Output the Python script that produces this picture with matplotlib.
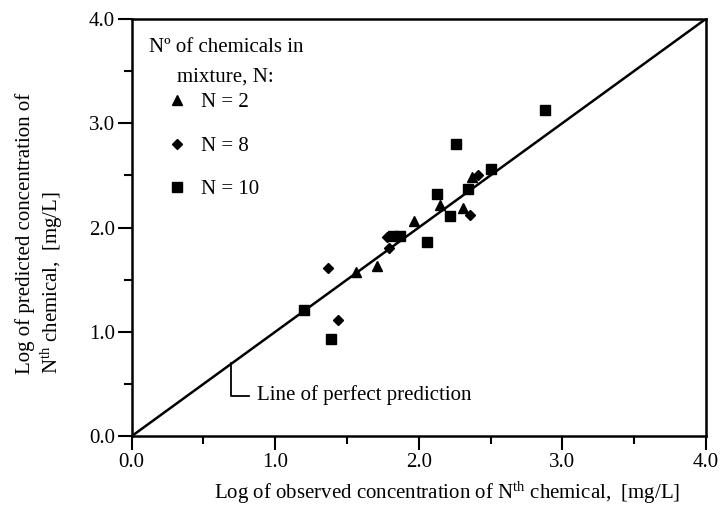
import numpy as np
import matplotlib.pyplot as plt
from matplotlib.ticker import MultipleLocator, FormatStrFormatter

plt.rcParams['font.family'] = ['Liberation Serif', 'DejaVu Serif']
plt.rcParams['mathtext.default'] = 'regular'

# data (log mg/L)
obs_n2 = [1.56, 1.71, 1.97, 2.15, 2.31, 2.37]
pred_n2 = [1.57, 1.63, 2.06, 2.22, 2.19, 2.48]

obs_n8 = [1.37, 1.44, 1.79, 1.78, 2.36, 2.41]
pred_n8 = [1.61, 1.11, 1.80, 1.91, 2.12, 2.50]

obs_n10 = [1.20, 1.39, 1.82, 1.87, 2.06, 2.13, 2.22, 2.26, 2.34, 2.50, 2.88]
pred_n10 = [1.21, 0.93, 1.92, 1.92, 1.86, 2.32, 2.11, 2.80, 2.37, 2.56, 3.13]

perfect = [0.0, 4.0]

fs = 15

fig = plt.figure(figsize=(7.27, 5.09), dpi=100)
ax = fig.add_axes([0.181, 0.143, 0.790, 0.820])

ax.plot(perfect, perfect, color='black', lw=1.8, zorder=2)
ax.plot(obs_n2, pred_n2, '^', color='black', ms=7.5, ls='none', label='N = 2', zorder=3)
ax.plot(obs_n8, pred_n8, 'D', color='black', ms=5.5, ls='none', label='N = 8', zorder=3)
ax.plot(obs_n10, pred_n10, 's', color='black', ms=7.5, ls='none', label='N = 10', zorder=3)

# bracket for the line label
ax.plot([0.694, 0.694, 0.815], [0.70, 0.39, 0.39], color='black', lw=1.3)
ax.text(0.875, 0.39, 'Line of perfect prediction', fontsize=fs, va='center', ha='left')

# legend heading and entries
ax.text(0.164, 0.955, 'Nº of chemicals in\nmixture, N:', transform=ax.transAxes,
        fontsize=fs, ha='center', va='top', multialignment='center', linespacing=1.75)
leg = ax.legend(loc='upper left', bbox_to_anchor=(0.061, 0.823), frameon=False,
                fontsize=fs, handletextpad=0.65, labelspacing=1.15, handlelength=1.0,
                borderaxespad=0, borderpad=0)

ax.set_xlim(0, 4)
ax.set_ylim(0, 4)
ax.xaxis.set_major_locator(MultipleLocator(1.0))
ax.xaxis.set_minor_locator(MultipleLocator(0.5))
ax.yaxis.set_major_locator(MultipleLocator(1.0))
ax.yaxis.set_minor_locator(MultipleLocator(0.5))
ax.xaxis.set_major_formatter(FormatStrFormatter('%.1f'))
ax.yaxis.set_major_formatter(FormatStrFormatter('%.1f'))
ax.tick_params(which='major', direction='out', length=10, width=1.5, labelsize=fs, pad=2)
ax.tick_params(which='minor', direction='out', length=6, width=1.5)
for s in ax.spines.values():
    s.set_linewidth(1.8)

ax.set_xlabel('Log of observed concentration of N$^{th}$ chemical,  [mg/L]', fontsize=fs)
ax.xaxis.set_label_coords(0.55, -0.105)
ax.set_ylabel('Log of predicted concentration of\nN$^{th}$ chemical,  [mg/L]', fontsize=fs)
ax.yaxis.label.set_multialignment('left')
ax.yaxis.set_label_coords(-0.116, 0.487)

fig.savefig('out.png', dpi=100)
